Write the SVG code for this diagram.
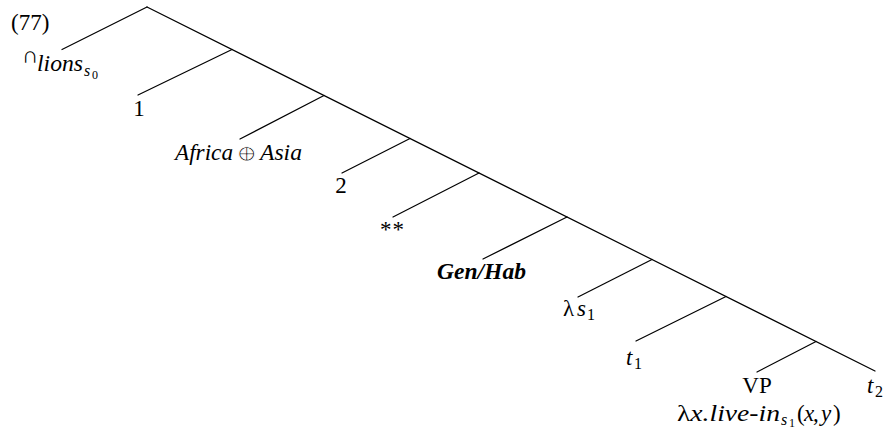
<svg xmlns="http://www.w3.org/2000/svg" width="884" height="430" viewBox="0 0 884 430">
<style>
text{font-family:'Liberation Serif','Times New Roman',Times,serif;font-size:23px;fill:#000}
.i{font-style:italic}
.b{font-weight:bold}
.sub{font-size:16px}
.sub2{font-size:12px}
.sym{font-family:'DejaVu Serif','DejaVu Sans',serif;font-style:normal;font-weight:normal;stroke:#fff;stroke-width:1}
.e line{stroke:#000;stroke-width:1.2;stroke-linecap:round}
</style>
<rect width="884" height="430" fill="#fff"/>
<g class="e" id="connectors">
<line x1="147" y1="7" x2="62" y2="49.5"/>
<line x1="147" y1="7" x2="875" y2="371"/>
<line x1="232" y1="49.5" x2="138" y2="95"/>
<line x1="324" y1="95.5" x2="240" y2="139"/>
<line x1="410" y1="138.5" x2="342" y2="173"/>
<line x1="479" y1="173" x2="393" y2="217"/>
<line x1="567" y1="217" x2="483" y2="259"/>
<line x1="652" y1="259.5" x2="578" y2="297"/>
<line x1="726" y1="296.5" x2="636" y2="341"/>
<line x1="816" y1="341.5" x2="757" y2="372"/>
</g>
<g id="label77"><text x="11" y="29.5" font-size="26">(77)</text></g>
<g id="n-lions">
<text x="22" y="63" font-size="15">∩</text>
<text class="i" x="37" y="71" textLength="46" lengthAdjust="spacingAndGlyphs">lions</text>
<text class="i sub" x="84" y="76">s</text>
<text class="sub2" x="92" y="79">0</text>
</g>
<g id="n-1"><text x="139" y="116" text-anchor="middle">1</text></g>
<g id="n-africa">
<text class="i" x="175" y="160" textLength="58" lengthAdjust="spacingAndGlyphs">Africa</text>
<text class="sym" x="236" y="161" font-size="25" textLength="21" lengthAdjust="spacingAndGlyphs">⊕</text>
<text class="i" x="260" y="160" textLength="42" lengthAdjust="spacingAndGlyphs">Asia</text>
</g>
<g id="n-2"><text x="341" y="193" text-anchor="middle">2</text></g>
<g id="n-stars"><text x="380" y="237" textLength="24" lengthAdjust="spacing">**</text></g>
<g id="n-genhab"><text class="i b" x="437" y="279" textLength="89" lengthAdjust="spacingAndGlyphs">Gen/Hab</text></g>
<g id="n-lambda-s1">
<text x="563" y="316">λ</text>
<text class="i" x="577" y="316">s</text>
<text class="sub" x="587" y="320">1</text>
</g>
<g id="n-t1">
<text class="i" x="626" y="365">t</text>
<text class="sub" x="634" y="369">1</text>
</g>
<g id="n-vp">
<text x="757" y="393" text-anchor="middle">VP</text>
<text x="677" y="421" textLength="103" lengthAdjust="spacingAndGlyphs">λ<tspan class="i">x.live-in</tspan></text>
<text class="i sub" x="781" y="425">s</text>
<text class="sub2" x="789" y="427">1</text>
<text x="797" y="421">(</text>
<text class="i" x="804" y="421">x</text>
<text x="813" y="421">,</text>
<text class="i" x="821" y="421">y</text>
<text x="833" y="421">)</text>
</g>
<g id="n-t2">
<text class="i" x="867" y="393">t</text>
<text class="sub" x="875" y="397">2</text>
</g>
</svg>
